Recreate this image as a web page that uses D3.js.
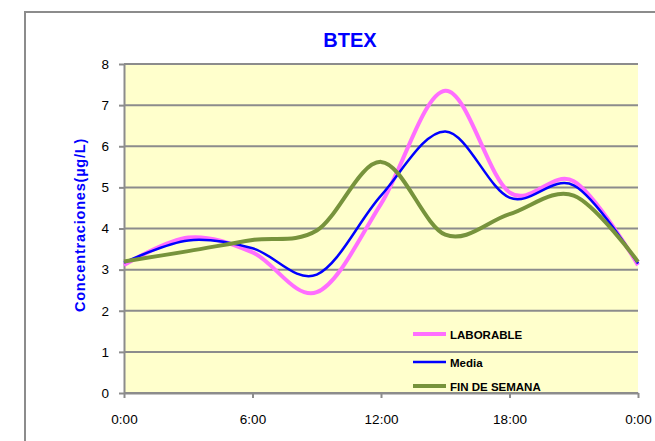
<!DOCTYPE html>
<html>
<head>
<meta charset="utf-8">
<script src="https://cdn.jsdelivr.net/npm/d3@7"></script>
<style>
  body { margin: 0; background: #fff; }
  text { font-family: "Liberation Sans", Arial, sans-serif; }
  .axis path, .axis line { stroke: #8c8c8c; stroke-width: 2; }
  .axis text { font-size: 13.5px; fill: #000; }
</style>
</head>
<body>
<div id="chart"></div>
<script>
// data
var hours = [0, 3, 6, 9, 12, 15, 18, 21, 24];
var laborable = [3.11, 3.78, 3.42, 2.45, 4.6, 7.35, 4.88, 5.15, 3.11];
var media = [3.17, 3.71, 3.52, 2.88, 4.8, 6.36, 4.75, 5.05, 3.15];
var finDeSemana = [3.2, 3.45, 3.72, 3.95, 5.62, 3.85, 4.35, 4.8, 3.19];
var xTicks = [0, 6, 12, 18, 24];
var xTickLabels = ["0:00", "6:00", "12:00", "18:00", "0:00"];
var yTicks = [0, 1, 2, 3, 4, 5, 6, 7, 8];
var seriesNames = ["LABORABLE", "Media", "FIN DE SEMANA"];

var svgWidth = 655;
var svgHeight = 441;
var margin = { top: 64, left: 124 };
var width = 514;
var height = 329;

var svg = d3.select("#chart")
    .append("svg")
    .attr("width", svgWidth)
    .attr("height", svgHeight);

// outer frame
svg.append("rect")
    .attr("x", 25)
    .attr("y", 12)
    .attr("width", 700)
    .attr("height", 500)
    .attr("fill", "#fff")
    .attr("stroke", "#8c8c8c")
    .attr("stroke-width", 2);

// title
svg.append("text")
    .attr("x", 350)
    .attr("y", 47)
    .attr("text-anchor", "middle")
    .style("font-size", "20px")
    .style("font-weight", "bold")
    .style("fill", "#0000ff")
    .text("BTEX");

// y title
svg.append("text")
    .attr("transform", "translate(85,225) rotate(-90)")
    .attr("text-anchor", "middle")
    .style("font-size", "14.5px")
    .style("font-weight", "bold")
    .style("letter-spacing", "0.8px")
    .style("fill", "#0000ff")
    .text("Concentraciones(µg/L)");

var g = svg.append("g")
    .attr("transform", "translate(" + margin.left + "," + margin.top + ")");

var x = d3.scaleLinear().domain([0, 24]).range([0, width]);
var y = d3.scaleLinear().domain([0, 8]).range([height, 0]);

// plot background
g.append("rect")
    .attr("width", width)
    .attr("height", height)
    .attr("fill", "#ffffcc");

// gridlines
g.append("g")
    .selectAll("line")
    .data(yTicks)
    .join("line")
    .attr("x1", 0)
    .attr("x2", width)
    .attr("y1", d => y(d))
    .attr("y2", d => y(d))
    .attr("stroke", "#8c8c8c")
    .attr("stroke-width", 2);

var yAxis = d3.axisLeft(y)
    .tickValues(yTicks)
    .tickSize(5)
    .tickPadding(10)
    .tickSizeOuter(0);

g.append("g")
    .attr("class", "axis")
    .call(yAxis);

var xAxis = d3.axisBottom(x)
    .tickValues(xTicks)
    .tickFormat((d, i) => xTickLabels[i])
    .tickSize(5)
    .tickPadding(16)
    .tickSizeOuter(0);

g.append("g")
    .attr("class", "axis")
    .attr("transform", "translate(0," + height + ")")
    .call(xAxis);

var color = d3.scaleOrdinal()
    .domain(seriesNames)
    .range(["#ff6eff", "#0000ff", "#77933c"]);
var widths = { "LABORABLE": 4, "Media": 2.5, "FIN DE SEMANA": 4 };

var series = [
    { name: "LABORABLE", values: laborable },
    { name: "Media", values: media },
    { name: "FIN DE SEMANA", values: finDeSemana }
];

var line = d3.line()
    .x((d, i) => x(hours[i]))
    .y(d => y(d))
    .curve(d3.curveCatmullRom.alpha(0));

g.append("g")
    .selectAll("path")
    .data(series)
    .join("path")
    .attr("fill", "none")
    .attr("stroke", d => color(d.name))
    .attr("stroke-width", d => widths[d.name])
    .attr("stroke-linejoin", "round")
    .attr("d", d => line(d.values));

// legend
var legendY = [334, 362, 386];
var glegend = svg.selectAll(".legend")
    .data(seriesNames)
    .join("g")
    .attr("class", "legend")
    .attr("transform", (d, i) => "translate(413," + legendY[i] + ")");

glegend.append("line")
    .attr("x1", 0)
    .attr("x2", 33)
    .attr("stroke", d => color(d))
    .attr("stroke-width", d => widths[d]);

glegend.append("text")
    .attr("x", 37)
    .attr("y", 4.5)
    .style("font-size", "11.5px")
    .style("font-weight", "bold")
    .style("fill", "#000")
    .text(d => d);
</script>
</body>
</html>
